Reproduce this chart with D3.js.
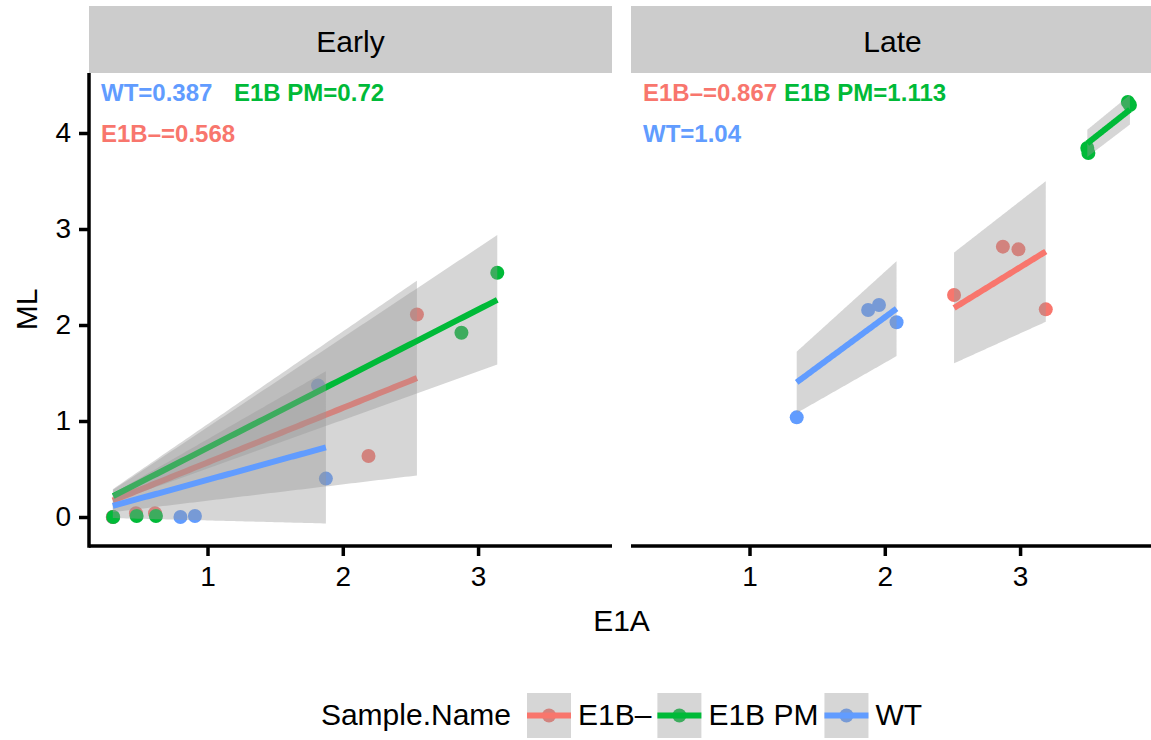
<!DOCTYPE html>
<html>
<head>
<meta charset="utf-8">
<script src="https://cdn.jsdelivr.net/npm/d3@7"></script>
<style>
  body { margin: 0; background: #ffffff; }
  text { font-family: "Liberation Sans", Arial, Helvetica, sans-serif; fill: #000; }
</style>
</head>
<body>
<svg id="chart" width="1151" height="740"></svg>
<script>
// ---- data -------------------------------------------------------------
const groups = ["E1B–", "E1B PM", "WT"];
const groupColors = ["#F8766D", "#00BA38", "#619CFF"];
const stages = ["Early", "Late"];

// E1A (x) and ML (y) per sample, by stage and sample group
const earlyE1Bneg_E1A = [0.300, 0.471, 0.612, 2.190, 2.548];
const earlyE1Bneg_ML  = [0.000, 0.040, 0.040, 0.635, 2.110];
const earlyE1BPM_E1A  = [0.303, 0.476, 0.619, 2.877, 3.142];
const earlyE1BPM_ML   = [0.000, 0.010, 0.010, 1.920, 2.545];
const earlyWT_E1A     = [0.300, 0.800, 0.907, 1.817, 1.875];
const earlyWT_ML      = [0.000, 0.000, 0.010, 1.370, 0.400];

const lateE1Bneg_E1A  = [2.512, 2.873, 2.988, 3.190];
const lateE1Bneg_ML   = [2.312, 2.816, 2.788, 2.163];
const lateE1BPM_E1A   = [3.497, 3.505, 3.797, 3.812];
const lateE1BPM_ML    = [3.844, 3.792, 4.323, 4.292];
const lateWT_E1A      = [1.349, 1.877, 1.957, 2.087];
const lateWT_ML       = [1.038, 2.156, 2.208, 2.028];

// slopes of ML ~ 0 + E1A, in group order, as printed in each panel
const earlySlopes = [0.568, 0.72, 0.387];
const lateSlopes  = [0.867, 1.113, 1.04];

const xTicks = [1, 2, 3];
const yTicks = [0, 1, 2, 3, 4];

// ---- assemble ---------------------------------------------------------
const panels = [
  { stage: stages[0], slopes: earlySlopes,
    xs: [earlyE1Bneg_E1A, earlyE1BPM_E1A, earlyWT_E1A],
    ys: [earlyE1Bneg_ML,  earlyE1BPM_ML,  earlyWT_ML] },
  { stage: stages[1], slopes: lateSlopes,
    xs: [lateE1Bneg_E1A, lateE1BPM_E1A, lateWT_E1A],
    ys: [lateE1Bneg_ML,  lateE1BPM_ML,  lateWT_ML] }
];

// two-sided 95% Student t quantiles
const t975 = {1: 12.706, 2: 4.303, 3: 3.182446, 4: 2.776445, 5: 2.570582,
              6: 2.446912, 7: 2.364624, 8: 2.306004, 9: 2.262157, 10: 2.228139};

// ---- layout -----------------------------------------------------------
const svg = d3.select("#chart");
const panelLeft = [89, 631];
const panelW = 523;
const panelTop = 73, panelBottom = 546;
const stripTop = 6;

const x = d3.scaleLinear().domain([0.124, 3.99]).range([0, panelW]);
const y = d3.scaleLinear().domain([-0.302, 4.625]).range([panelBottom, panelTop]);

const ribbonFill = "#999999", ribbonAlpha = 0.4;
const lineW = 6, pointR = 7;
const axisW = 3.5;
const labelColX = [[12, 145], [12, 153]];
const labelRowY = [101, 142];

panels.forEach((p, pi) => {
  const left = panelLeft[pi];
  const g = svg.append("g").attr("transform", `translate(${left},0)`);

  // clip to the panel area
  const clipId = "clip" + pi;
  svg.append("clipPath").attr("id", clipId)
    .append("rect").attr("x", 0).attr("y", panelTop)
    .attr("width", panelW).attr("height", panelBottom - panelTop);
  const plot = g.append("g").attr("clip-path", `url(#${clipId})`);

  // strip
  g.append("rect").attr("x", 0).attr("y", stripTop)
    .attr("width", panelW).attr("height", panelTop - stripTop)
    .attr("fill", "#CCCCCC");
  g.append("text").attr("x", panelW / 2).attr("y", 52)
    .attr("text-anchor", "middle").attr("font-size", 30).text(p.stage);

  // points (green drawn last)
  [2, 0, 1].forEach(gi => {
    plot.append("g").selectAll("circle")
      .data(d3.range(p.xs[gi].length))
      .join("circle")
      .attr("cx", i => x(p.xs[gi][i]))
      .attr("cy", i => y(p.ys[gi][i]))
      .attr("r", pointR)
      .attr("fill", groupColors[gi]);
  });

  // regression through the origin with 95% confidence band
  [0, 1, 2].forEach(gi => {
    const xs = p.xs[gi], ys = p.ys[gi];
    const b = p.slopes[gi];
    const n = xs.length;
    const sxx = d3.sum(xs, v => v * v);
    const rss = d3.sum(xs, (v, i) => (ys[i] - b * v) ** 2);
    const s = Math.sqrt(rss / (n - 1));
    const tq = t975[n - 1];
    const [x0, x1] = d3.extent(xs);
    const grid = d3.range(80).map(k => x0 + (x1 - x0) * k / 79);
    const band = grid.map(v => {
      const fit = b * v, half = tq * s * Math.abs(v) / Math.sqrt(sxx);
      return { v, fit, lo: fit - half, hi: fit + half };
    });
    plot.append("path").datum(band)
      .attr("d", d3.area().x(d => x(d.v)).y0(d => y(d.lo)).y1(d => y(d.hi)))
      .attr("fill", ribbonFill).attr("fill-opacity", ribbonAlpha);
    plot.append("path").datum(band)
      .attr("d", d3.line().x(d => x(d.v)).y(d => y(d.fit)))
      .attr("fill", "none").attr("stroke", groupColors[gi])
      .attr("stroke-width", lineW);
  });

  // slope labels, placed by slope rank
  const order = d3.range(3).sort((a, c) => p.slopes[a] - p.slopes[c]);
  const slots = [[0, 0], [0, 1], [1, 0]];
  order.forEach((gi, r) => {
    const [col, row] = slots[r];
    g.append("text")
      .attr("x", labelColX[pi][col]).attr("y", labelRowY[row])
      .attr("font-size", 24).attr("font-weight", "bold")
      .attr("fill", groupColors[gi]).style("fill", groupColors[gi])
      .text(`${groups[gi]}=${p.slopes[gi]}`);
  });

  // x axis
  const xa = g.append("g").attr("transform", `translate(0,${panelBottom})`)
    .call(d3.axisBottom(x).tickValues(xTicks).tickSize(10).tickPadding(10)
      .tickFormat(d3.format("d")));
  xa.select(".domain").remove();
  xa.append("line").attr("x1", 0).attr("x2", panelW)
    .attr("stroke", "#000").attr("stroke-width", axisW);
  xa.selectAll(".tick line").attr("stroke", "#000").attr("stroke-width", axisW);
  xa.selectAll(".tick text").attr("font-size", 28).attr("font-family", null)
    .attr("dy", "0.72em");

  // y axis on the first panel only
  if (pi === 0) {
    const ya = g.append("g")
      .call(d3.axisLeft(y).tickValues(yTicks).tickSize(10).tickPadding(8)
        .tickFormat(d3.format("d")));
    ya.select(".domain").remove();
    ya.append("line").attr("y1", panelTop).attr("y2", panelBottom + axisW / 2)
      .attr("stroke", "#000").attr("stroke-width", axisW);
    ya.selectAll(".tick line").attr("stroke", "#000").attr("stroke-width", axisW);
    ya.selectAll(".tick text").attr("font-size", 28).attr("font-family", null);
  }
});

// axis titles
svg.append("text").attr("x", (panelLeft[0] + panelLeft[1] + panelW) / 2).attr("y", 631)
  .attr("text-anchor", "middle").attr("font-size", 30).text("E1A");
svg.append("text").attr("transform", `translate(37,${(panelTop + panelBottom) / 2}) rotate(-90)`)
  .attr("text-anchor", "middle").attr("font-size", 30).text("ML");

// ---- legend -----------------------------------------------------------
const legend = svg.append("g");
const keyW = 44, keyH = 45, keyTop = 693, legendBase = 725;
const title = legend.append("text").attr("y", legendBase).attr("font-size", 30).text("Sample.Name");
let cx = title.node().getComputedTextLength() + 16;
groups.forEach((name, gi) => {
  const k = legend.append("g").attr("transform", `translate(${cx},${keyTop})`);
  k.append("circle").attr("cx", keyW / 2).attr("cy", keyH / 2).attr("r", pointR)
    .attr("fill", groupColors[gi]);
  k.append("rect").attr("width", keyW).attr("height", keyH)
    .attr("fill", ribbonFill).attr("fill-opacity", ribbonAlpha);
  k.append("line").attr("x1", 0).attr("x2", keyW).attr("y1", keyH / 2).attr("y2", keyH / 2)
    .attr("stroke", groupColors[gi]).attr("stroke-width", lineW);
  const t = legend.append("text").attr("x", cx + keyW + 7).attr("y", legendBase)
    .attr("font-size", 30).text(name);
  cx += keyW + 7 + t.node().getComputedTextLength() + 6;
});
const legendW = cx - 6;
const centre = (panelLeft[0] + panelLeft[1] + panelW) / 2;
legend.attr("transform", `translate(${centre - legendW / 2},0)`);
</script>
</body>
</html>
